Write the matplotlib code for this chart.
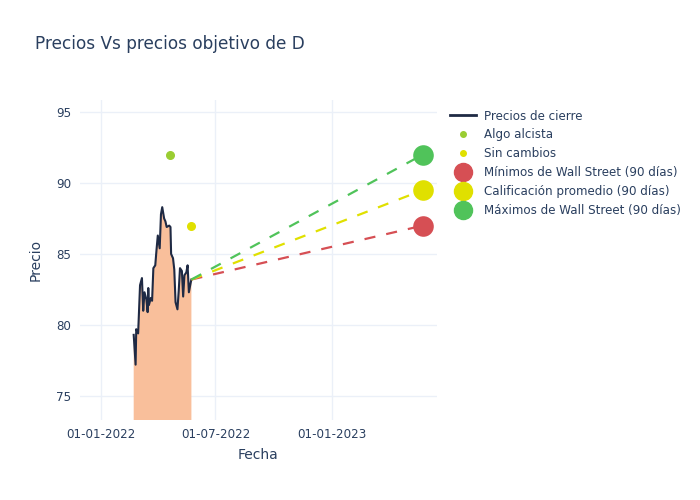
import numpy as np
import pandas as pd
import matplotlib
matplotlib.use("Agg")
import matplotlib.pyplot as plt
import matplotlib.dates as mdates
from matplotlib.lines import Line2D

# closing prices
dates = ["2022-02-22", "2022-02-25", "2022-02-26", "2022-03-01", "2022-03-04",
         "2022-03-07", "2022-03-09", "2022-03-11", "2022-03-14", "2022-03-16",
         "2022-03-17", "2022-03-18", "2022-03-21", "2022-03-23", "2022-03-25",
         "2022-03-28", "2022-03-30", "2022-04-01", "2022-04-04", "2022-04-06",
         "2022-04-08", "2022-04-11", "2022-04-13", "2022-04-15", "2022-04-19",
         "2022-04-21", "2022-04-22", "2022-04-25", "2022-04-27", "2022-04-29",
         "2022-05-02", "2022-05-04", "2022-05-06", "2022-05-09", "2022-05-11",
         "2022-05-13", "2022-05-16", "2022-05-18", "2022-05-20", "2022-05-23",
         "2022-05-24"]
prices = [79.3, 77.2, 79.7, 79.4, 82.8,
          83.3, 81.0, 82.3, 81.8, 80.9,
          82.6, 81.4, 81.9, 81.7, 84.0,
          84.2, 85.3, 86.3, 85.4, 87.8,
          88.3, 87.5, 87.3, 86.9, 87.0,
          86.9, 85.0, 84.7, 83.9, 81.6,
          81.1, 82.4, 84.0, 83.8, 82.0,
          83.5, 83.7, 84.2, 82.3, 83.0,
          83.2]

# analyst points
bull_date, bull_value = "2022-04-20", 92.0
hold_date, hold_value = "2022-05-23", 87.0

target_date = "2023-05-24"
target_low = 87.0
target_avg = 89.5
target_high = 92.0

dates = pd.to_datetime(dates)
last_date = dates[-1]
last_price = prices[-1]
target_dt = pd.Timestamp(target_date)

text_c = "#2a3f5f"
grid_c = "#ebf0f8"
red = "#d64f54"
yellow = "#e0e000"
green = "#50c35a"
bull_c = "#9acd32"

fig = plt.figure(figsize=(7, 5), dpi=100)
ax = fig.add_axes([0.114, 0.16, 0.51, 0.64])

ax.fill_between(dates, prices, 0, color="#f9bf9b", linewidth=0)
ax.plot(dates, prices, color="#1f2a44", linewidth=1.5)

ax.scatter([pd.Timestamp(bull_date)], [bull_value], s=30, color=bull_c, zorder=4)
ax.scatter([pd.Timestamp(hold_date)], [hold_value], s=30, color=yellow, zorder=4)

for val, c in [(target_low, red), (target_avg, yellow), (target_high, green)]:
    ax.plot([last_date, target_dt], [last_price, val], color=c, linewidth=1.6,
            dashes=(5, 5))
    ax.scatter([target_dt], [val], s=220, color=c, zorder=5, linewidths=0)

ax.set_xlim(pd.Timestamp("2021-11-29"), pd.Timestamp("2023-06-15"))
ax.set_ylim(73.3, 95.85)
ax.set_yticks([75, 80, 85, 90, 95])
ax.set_xticks(pd.to_datetime(["2022-01-01", "2022-07-01", "2023-01-01"]))
ax.xaxis.set_major_formatter(mdates.DateFormatter("%d-%m-%Y"))

ax.grid(True, color=grid_c, linewidth=1)
ax.set_axisbelow(True)
for s in ax.spines.values():
    s.set_visible(False)
ax.tick_params(length=0, labelsize=8.6, colors=text_c, pad=6)
ax.set_xlabel("Fecha", fontsize=10, color=text_c, labelpad=5)
ax.set_ylabel("Precio", fontsize=10, color=text_c, labelpad=10)

fig.text(0.05, 0.912, "Precios Vs precios objetivo de D", fontsize=12.2,
         color=text_c, va="center")

handles = [
    Line2D([], [], color="#1f2a44", linewidth=2),
    Line2D([], [], marker="o", linestyle="", color=bull_c, markersize=4),
    Line2D([], [], marker="o", linestyle="", color=yellow, markersize=4),
    Line2D([], [], marker="o", linestyle="", color=red, markersize=13),
    Line2D([], [], marker="o", linestyle="", color=yellow, markersize=13),
    Line2D([], [], marker="o", linestyle="", color=green, markersize=13),
]
labels = ["Precios de cierre", "Algo alcista", "Sin cambios",
          "Mínimos de Wall Street (90 días)", "Calificación promedio (90 días)",
          "Máximos de Wall Street (90 días)"]
leg = fig.legend(handles, labels, loc="upper left", bbox_to_anchor=(0.643, 0.781),
                 frameon=False, fontsize=8.6, labelcolor=text_c,
                 handlelength=2.2, handletextpad=0.6, labelspacing=0.5,
                 borderaxespad=0, borderpad=0)

fig.savefig("out.png", dpi=100)
